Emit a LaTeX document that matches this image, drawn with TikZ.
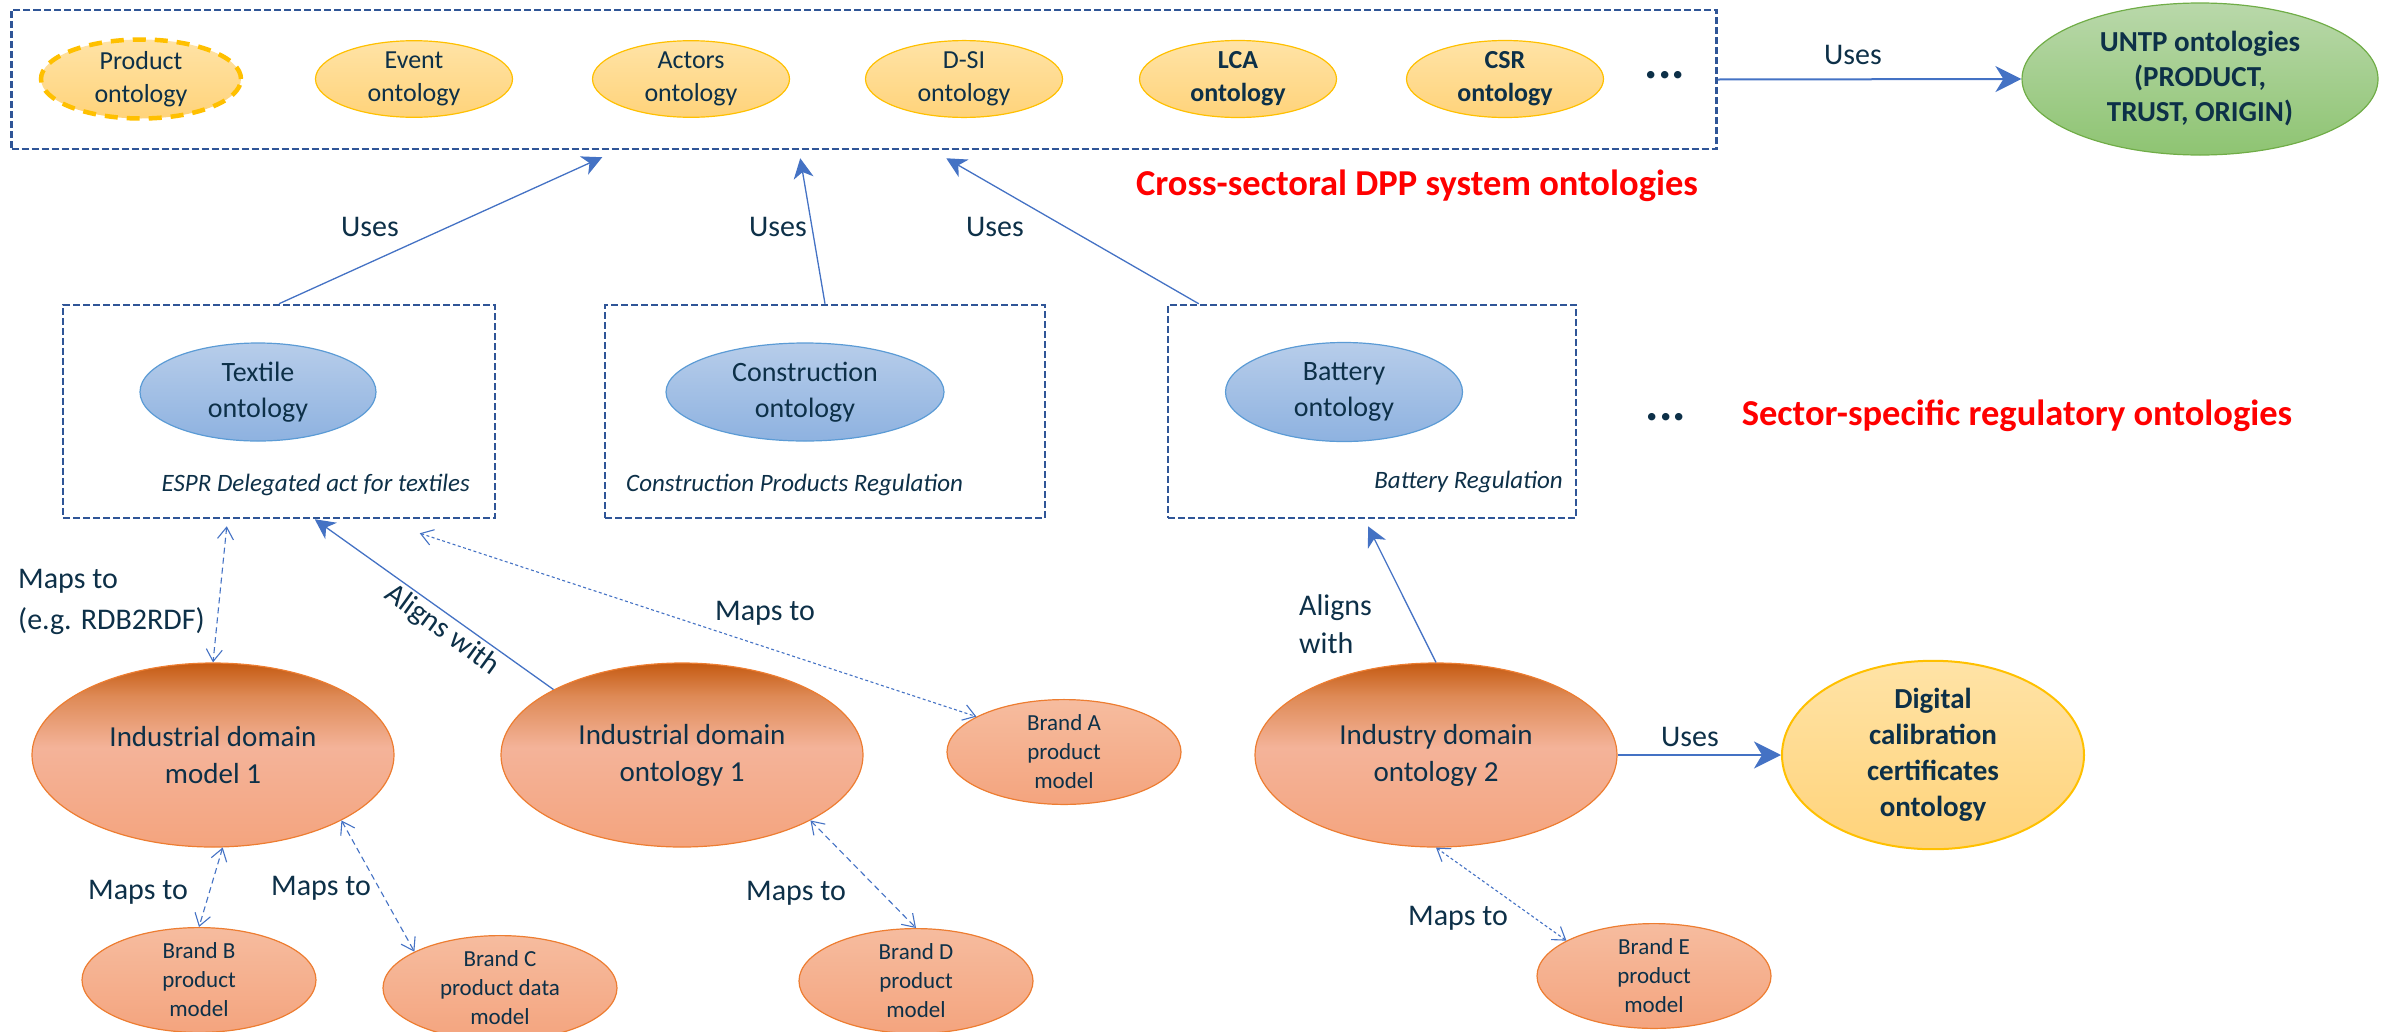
\documentclass[tikz,border=0pt]{standalone}
\usepackage{fontspec}
\setmainfont{Carlito}
\usetikzlibrary{arrows.meta,calc,shapes.geometric}

\definecolor{ink}{RGB}{13,48,72}
\definecolor{boxblue}{HTML}{2F5597}
\definecolor{arrowblue}{HTML}{4472C4}
\definecolor{gold}{HTML}{FFC000}
\definecolor{yeltop}{HTML}{FFE3A6}
\definecolor{yelbot}{HTML}{FFD37A}
\definecolor{bluetop}{HTML}{B7CDEA}
\definecolor{bluebot}{HTML}{8EB2E0}
\definecolor{blueedge}{HTML}{5B9BD5}
\definecolor{greentop}{HTML}{B9D8AA}
\definecolor{greenbot}{HTML}{8EC472}
\definecolor{greenedge}{HTML}{70AD47}
\definecolor{orangeedge}{HTML}{ED7D31}
\definecolor{ortop}{HTML}{C55A11}
\definecolor{orupper}{HTML}{DE8A56}
\definecolor{ormid}{HTML}{F4B399}
\definecolor{orbot}{HTML}{F4A47E}
\definecolor{brandtop}{HTML}{F6BC9F}
\definecolor{brandbot}{HTML}{F4A47E}

% vertical shading of the large domain ellipses: dark crown, salmon body
\pgfdeclareverticalshading{orangeball}{100bp}{color(0bp)=(orbot); color(25bp)=(orbot); color(52bp)=(ormid); color(66bp)=(orupper); color(75bp)=(ortop); color(100bp)=(ortop)}

\tikzset{
  oval/.style={ellipse, inner sep=0pt, align=center, text=ink},
  coreoval/.style={oval, draw=gold, line width=1.2pt, top color=yeltop, bottom color=yelbot,
    minimum width=197pt, minimum height=76pt, font=\fontsize{26}{33}\selectfont},
  sectoroval/.style={oval, draw=blueedge, line width=1.2pt, top color=bluetop, bottom color=bluebot,
    minimum height=98pt, font=\fontsize{28}{36}\selectfont},
  domainoval/.style={oval, draw=orangeedge, line width=1.2pt, shading=orangeball,
    minimum width=362pt, minimum height=184pt, font=\fontsize{29}{37}\selectfont},
  brandoval/.style={oval, draw=orangeedge, line width=1.2pt, top color=brandtop, bottom color=brandbot,
    minimum width=234pt, minimum height=98pt, font=\fontsize{23}{29}\selectfont},
  groupbox/.style={draw=boxblue, line width=2.5pt, dash pattern=on 7pt off 3pt, inner sep=0pt},
  lbl/.style={text=ink, inner sep=0pt, font=\fontsize{30}{38}\selectfont},
  regname/.style={text=ink, inner sep=0pt, font=\fontsize{25}{30}\selectfont\itshape},
  redtitle/.style={text=red, inner sep=0pt, font=\fontsize{36.5}{40}\selectfont\bfseries},
  moredots/.style={text=ink, inner sep=0pt, font=\fontsize{50}{50}\selectfont\bfseries},
  usesarrow/.style={draw=arrowblue, line width=1.3pt, -{Stealth[length=20pt,width=20pt,inset=6pt]}},
  maparrow/.style={draw=arrowblue, line width=1.1pt, dash pattern=on 6pt off 4pt,
    {Straight Barb[length=12pt,width=16pt]}-{Straight Barb[length=12pt,width=16pt]}},
  mapdotted/.style={maparrow, dash pattern=on 3pt off 2.5pt},
}

\begin{document}
\begin{tikzpicture}[x=1pt, y=-1pt]
\useasboundingbox (0,0) rectangle (2392,1031);

% ---- cross-sectoral system ontologies ----
\node[groupbox, minimum width=1705pt, minimum height=139pt] (core) at (864,79.5) {};
\node[coreoval, draw=none, minimum width=200pt, minimum height=79pt] (prod) at (141,79) {Product\\ontology};
\draw[gold, line width=4.5pt, dash pattern=on 13pt off 9pt] (prod.center) ellipse [x radius=100pt, y radius=39.5pt];
\node[coreoval] (event) at (414,79) {Event\\ontology};
\node[coreoval] (actors) at (691,79) {Actors\\ontology};
\node[coreoval] (dsi) at (964,79) {D-SI\\ontology};
\node[coreoval, font=\fontsize{26}{33}\selectfont\bfseries] (lca) at (1238,79) {LCA\\ontology};
\node[coreoval, font=\fontsize{26}{33}\selectfont\bfseries] (csr) at (1505,79) {CSR\\ontology};
\node[moredots] (coredots) at (1665,75) {...};
\node[redtitle] (coretitle) at (1417,186) {Cross-sectoral DPP system ontologies};

\node[oval, draw=greenedge, line width=1.2pt, top color=greentop, bottom color=greenbot,
  minimum width=356pt, minimum height=152pt, font=\fontsize{29}{35}\selectfont\bfseries] (untp) at (2200,79)
  {UNTP ontologies\\(PRODUCT,\\TRUST, ORIGIN)};
\draw[draw=arrowblue, line width=2pt, -{Stealth[length=26pt,width=26pt,inset=8pt]}] (core.east) -- (untp.west);
\node[lbl] (usesuntp) at (1853,55) {Uses};

% ---- sector-specific regulatory ontologies ----
\node[groupbox, minimum width=432pt, minimum height=213pt] (texbox) at (279,411.5) {};
\node[sectoroval, minimum width=236pt] (textile) at (258,392) {Textile\\ontology};
\node[regname, anchor=east] (texreg) at (470,485) {ESPR Delegated act for textiles};

\node[groupbox, minimum width=440pt, minimum height=213pt] (conbox) at (825,411.5) {};
\node[sectoroval, minimum width=278pt] (constr) at (805,392) {Construction\\ontology};
\node[regname, anchor=west] (conreg) at (626,485) {Construction Products Regulation};

\node[groupbox, minimum width=408pt, minimum height=213pt] (batbox) at (1372,411.5) {};
\node[sectoroval, minimum width=237pt, minimum height=99pt] (battery) at (1344,392) {Battery\\ontology};
\node[regname, anchor=east] (batreg) at (1563,482) {Battery Regulation};

\node[moredots] (sectordots) at (1666,417) {...};
\node[redtitle] (sectortitle) at (2017,416) {Sector-specific regulatory ontologies};

% sector ontologies use the system ontologies
\draw[usesarrow] (texbox.north) -- ($(core.south west)+(592,7)$);
\draw[usesarrow] (conbox.north) -- ($(core.south west)+(790,8)$);
\draw[usesarrow] ($(batbox.north west)+(32,0)$) -- ($(core.south west)+(936,8)$);
\node[lbl] (uses1) at (370,227) {Uses};
\node[lbl] (uses2) at (778,227) {Uses};
\node[lbl] (uses3) at (995,227) {Uses};

% ---- industrial domain models and ontologies ----
\node[domainoval] (idm1) at (213,755) {Industrial domain\\model 1};
\node[domainoval] (ido1) at (682,755) {Industrial domain\\ontology 1};
\node[domainoval] (ido2) at (1436,755) {Industry domain\\ontology 2};
\node[oval, draw=gold, line width=2pt, top color=yeltop, bottom color=yelbot,
  minimum width=302pt, minimum height=152pt, font=\fontsize{29}{36}\selectfont\bfseries] (digcal) at (1933,755)
  {Digital\\calibration\\certificates\\ontology};

\node[brandoval] (brandA) at (1064,752) {Brand A\\product\\model};
\node[brandoval] (brandB) at (199,980) {Brand B\\product\\model};
\node[brandoval, minimum height=100pt] (brandC) at (500,988) {Brand C\\product data\\model};
\node[brandoval] (brandD) at (916,981) {Brand D\\product\\model};
\node[brandoval] (brandE) at (1654,976) {Brand E\\product\\model};

% mappings and alignments
\draw[maparrow] ($(texbox.south west)+(165,7)$) -- (idm1.north);
\node[lbl, anchor=west, align=left, font=\fontsize{30}{41}\selectfont] (rdb) at (18,602) {Maps to\\(e.g. RDB2RDF)};

\draw[usesarrow] (ido1.153) -- ($(texbox.south west)+(253,0)$);
\node[lbl, rotate=-36] (align1) at (442,630) {Aligns with};

\draw[mapdotted] ($(texbox.south west)+(358,14)$) -- (brandA.158);
\node[lbl] (mapA) at (765,613) {Maps to};

\draw[maparrow] (idm1.-84) -- (brandB.north);
\node[lbl] (mapB) at (138,892) {Maps to};
\draw[maparrow] (idm1.-27) -- (brandC.157);
\node[lbl] (mapC) at (321,888) {Maps to};
\draw[maparrow] (ido1.-27) -- (brandD.north);
\node[lbl] (mapD) at (796,893) {Maps to};

\draw[usesarrow] (ido2.north) -- ($(batbox.south)+(-4,7)$);
\node[lbl, anchor=west, align=left, font=\fontsize{30}{38}\selectfont] (align2) at (1299,624) {Aligns\\with};

\draw[draw=arrowblue, line width=2.5pt, -{Stealth[length=27pt,width=27pt,inset=8pt]}] (ido2.east) -- (digcal.west);
\node[lbl] (usesdig) at (1690,737) {Uses};

\draw[mapdotted] (ido2.south) -- (brandE.158);
\node[lbl] (mapE) at (1458,918) {Maps to};
\end{tikzpicture}
\end{document}
